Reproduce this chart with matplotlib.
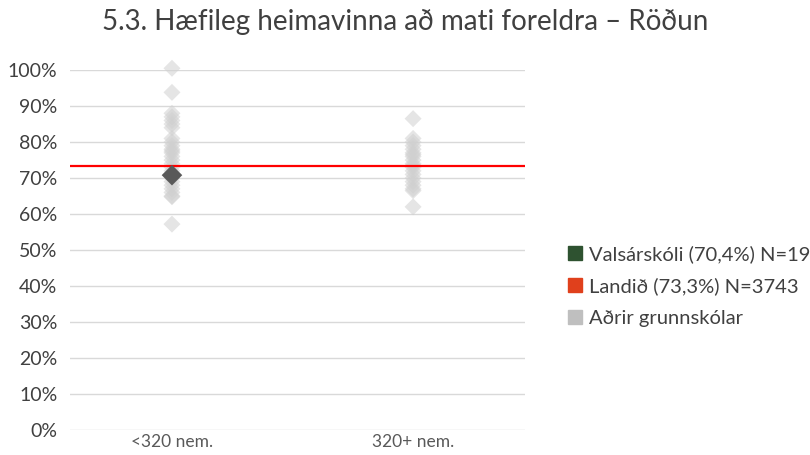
import matplotlib.pyplot as plt
from matplotlib.lines import Line2D

plt.rcParams['font.family'] = ['Lato', 'DejaVu Sans']

categories = ["<320 nem.", "320+ nem."]
others_small = [100.5, 93.8, 88, 87, 86, 85, 84, 81, 80, 79, 78, 77.5, 77, 76,
                75, 74, 73, 72, 71, 70, 69, 68, 67, 66, 65, 64.8, 57.2]
others_large = [86.5, 81, 80, 79, 78, 77, 76.5, 76, 75, 74, 73.5, 73, 72, 71,
                70, 69, 68, 67, 66.5, 62]
school_cat = 0
school_value = 70.8
national = 73.3
legend_labels = ["Valsárskóli (70,4%) N=19", "Landið (73,3%) N=3743", "Aðrir grunnskólar"]

fig = plt.figure(figsize=(8.1, 4.55), dpi=100)
ax = fig.add_axes([0.0864, 0.055, 0.562, 0.791])

ax.set_ylim(0, 100)
ax.set_xlim(-0.423, 1.465)
ax.set_yticks(range(0, 101, 10))
ax.set_yticklabels([f"{v}%" for v in range(0, 101, 10)])
ax.yaxis.grid(True, color="#d9d9d9", lw=1)
ax.set_axisbelow(True)
for s in ax.spines.values():
    s.set_visible(False)
ax.tick_params(axis="y", length=0, labelsize=14, labelcolor="#404040", pad=9)
ax.tick_params(axis="x", length=0, labelsize=12.5, labelcolor="#595959", pad=3)
ax.set_xticks([0, 1])
ax.set_xticklabels(categories)

ax.scatter([0] * len(others_small), others_small, marker="D", s=75,
           color="#d0d0d0", alpha=0.55, edgecolors="none", zorder=2, clip_on=False)
ax.scatter([1] * len(others_large), others_large, marker="D", s=75,
           color="#d0d0d0", alpha=0.55, edgecolors="none", zorder=2, clip_on=False)
ax.axhline(national, color="#ff0000", lw=1.6, zorder=3)
ax.scatter([school_cat], [school_value], marker="D", s=110,
           color="#595959", edgecolors="none", zorder=4)

fig.suptitle("5.3. Hæfileg heimavinna að mati foreldra – Röðun", x=0.5, y=0.98,
             fontsize=20, color="#404040")

handles = [
    Line2D([], [], marker="s", ls="none", color="#2e5230", markersize=10),
    Line2D([], [], marker="s", ls="none", color="#e0401c", markersize=10),
    Line2D([], [], marker="s", ls="none", color="#bfbfbf", markersize=10),
]
fig.legend(handles, legend_labels, loc="center left", bbox_to_anchor=(0.676, 0.372),
           frameon=False, fontsize=14.5, labelspacing=0.72, handletextpad=0.25,
           handlelength=0.9, labelcolor="#404040")

fig.savefig("out.png", dpi=100)
